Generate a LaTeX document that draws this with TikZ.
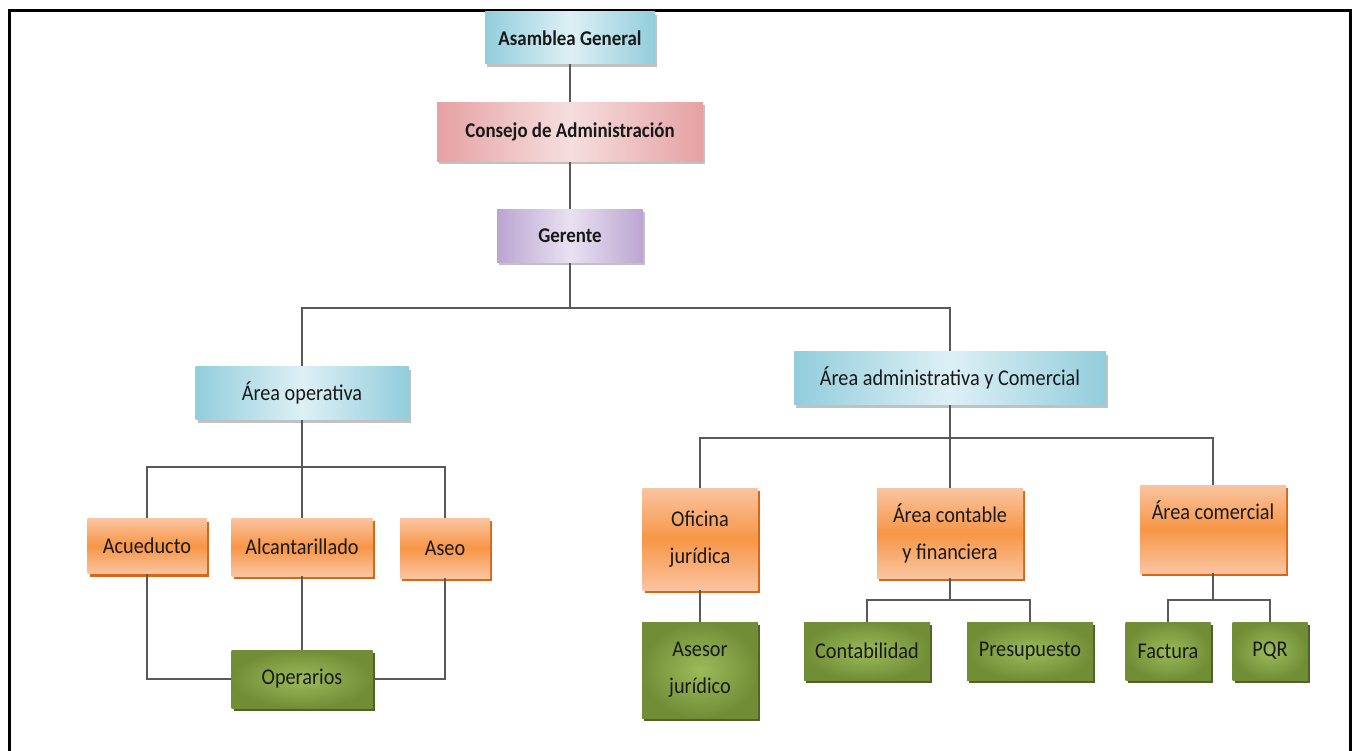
\documentclass[tikz,border=0pt]{standalone}
\usepackage{fontspec}
\setmainfont{Carlito}[FakeStretch=0.9]
\usetikzlibrary{shadows}

\definecolor{azul}{HTML}{92CDDC}
\definecolor{azulc}{HTML}{DDF0F5}
\definecolor{rojo}{HTML}{E6A1A3}
\definecolor{rojoc}{HTML}{F6DEDE}
\definecolor{lila}{HTML}{BBA5D1}
\definecolor{lilac}{HTML}{E9E1F1}
\definecolor{naranja}{HTML}{F79646}
\definecolor{naranjac}{HTML}{FAC4A0}
\definecolor{naranjas}{HTML}{D8661A}
\definecolor{verde}{HTML}{9BBB59}
\definecolor{verdeo}{HTML}{718E37}
\definecolor{verdes}{HTML}{4F6228}

\tikzset{
  caja/.style={minimum width=#1, inner sep=2pt, align=center,
    font=\fontsize{22.5}{37}\selectfont, text=black!90},
  azulbox/.style={caja=#1, left color=azul, right color=azul, middle color=azulc,
    drop shadow={shadow xshift=2pt, shadow yshift=-3pt, fill=black!30, opacity=0.8}},
  rojobox/.style={caja=#1, left color=rojo, right color=rojo, middle color=rojoc,
    drop shadow={shadow xshift=2pt, shadow yshift=-3pt, fill=black!30, opacity=0.8}},
  lilabox/.style={caja=#1, left color=lila, right color=lila, middle color=lilac,
    drop shadow={shadow xshift=2pt, shadow yshift=-3pt, fill=black!30, opacity=0.8}},
  naranjabox/.style={caja=#1, top color=naranjac, bottom color=naranjac, middle color=naranja,
    drop shadow={shadow xshift=2pt, shadow yshift=-3pt, fill=naranjas, opacity=1}},
  verdebox/.style={caja=#1, inner color=verde, outer color=verdeo,
    drop shadow={shadow xshift=2pt, shadow yshift=-3pt, fill=verdes, opacity=1}},
  negrita/.style={font=\fontsize{21}{37}\selectfont\bfseries},
  linea/.style={draw=black!65, line width=1.3pt}
}

\begin{document}
\begin{tikzpicture}[x=1pt, y=-1pt]
  \useasboundingbox (0,0) rectangle (1352,751);
  \draw [line width=3pt] (9,751) -- (9,11) -- (1350,11) -- (1350,751);

  % cabeza
  \node [azulbox=170pt, minimum height=52pt, negrita] (asamblea) at (570,38) {Asamblea General};
  \node [rojobox=266pt, minimum height=59pt, negrita] (consejo) at (570,132) {Consejo de Administración};
  \node [lilabox=146pt, minimum height=53pt, negrita] (gerente) at (570,236) {Gerente};

  % areas
  \node [azulbox=213pt, minimum height=53pt] (operativa) at (302,393) {Área operativa};
  \node [azulbox=312pt, minimum height=53pt] (admin) at (950,378) {Área administrativa y Comercial};

  % area operativa
  \node [naranjabox=119pt, minimum height=55pt] (acueducto) at (147,546) {Acueducto};
  \node [naranjabox=141pt, minimum height=58pt] (alcantarillado) at (302,547) {Alcantarillado};
  \node [naranjabox=90pt, minimum height=60pt] (aseo) at (445,548) {Aseo};
  \node [verdebox=141pt, minimum height=58pt] (operarios) at (302,679) {Operarios};

  % area administrativa
  \node [naranjabox=115pt, minimum height=102pt] (oficina) at (700,539) {Oficina\\jurídica};
  \node [naranjabox=146pt, minimum height=90pt] (contable) at (950,533) {Área contable\\y financiera};
  \node [naranjabox=146pt, minimum height=88pt] (comercial) at (1213,529) {Área comercial\\\mbox{}};
  \node [verdebox=116pt, minimum height=96pt] (asesor) at (700,670) {Asesor\\jurídico};
  \node [verdebox=126pt, minimum height=58pt] (contabilidad) at (867,651) {Contabilidad};
  \node [verdebox=126pt, minimum height=58pt] (presupuesto) at (1030,651) {Presupuesto};
  \node [verdebox=85pt, minimum height=58pt] (factura) at (1168,651) {Factura};
  \node [verdebox=75pt, minimum height=58pt] (pqr) at (1270,651) {PQR};

  % lineas
  \coordinate (b1) at (570,308);
  \coordinate (b2) at (302,467);
  \coordinate (b3) at (950,438);
  \coordinate (b4) at (950,600);
  \coordinate (b5) at (1213,600);

  \draw [linea] (asamblea.south) -- (consejo.north);
  \draw [linea] (consejo.south) -- (gerente.north);
  \draw [linea] (gerente.south) -- (b1);
  \draw [linea] (operativa.north) |- (b1) -| (admin.north);

  \draw [linea] (operativa.south) -- (b2);
  \draw [linea] (acueducto.north) |- (b2) -| (aseo.north);
  \draw [linea] (b2) -- (alcantarillado.north);
  \draw [linea] (acueducto.south) |- (operarios.west);
  \draw [linea] (aseo.south) |- (operarios.east);
  \draw [linea] (alcantarillado.south) -- (operarios.north);

  \draw [linea] (admin.south) -- (b3);
  \draw [linea] (oficina.north) |- (b3) -| (comercial.north);
  \draw [linea] (b3) -- (contable.north);
  \draw [linea] (oficina.south) -- (asesor.north);
  \draw [linea] (contable.south) -- (b4);
  \draw [linea] (contabilidad.north) |- (b4) -| (presupuesto.north);
  \draw [linea] (comercial.south) -- (b5);
  \draw [linea] (factura.north) |- (b5) -| (pqr.north);
\end{tikzpicture}
\end{document}
